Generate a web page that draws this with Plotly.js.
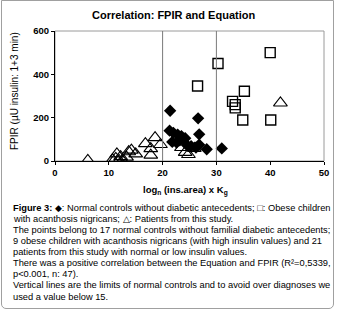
<!DOCTYPE html>
<html>
<head>
<meta charset="utf-8">
<script src="https://cdn.plot.ly/plotly-3.0.1.min.js"></script>
<style>
html,body{margin:0;padding:0;background:#fff;}
#frame{position:absolute;left:1px;top:0px;width:331px;height:307px;border:1px solid #a0a0a0;border-radius:0 0 5px 5px;}
#chart{position:absolute;left:0;top:0;width:337px;height:311px;}
</style>
</head>
<body>
<div id="frame"></div>
<div id="chart"></div>
<script>
// Normal controls without diabetic antecedents (filled diamonds)
const controlsX = [21.4, 26.6, 21.3, 22.0, 22.8, 23.5, 24.2, 26.8, 21.8, 22.6, 24.5, 25.3, 26.8, 26.2, 28.2, 31.0, 23.2];
const controlsY = [232, 197, 140, 130, 122, 115, 105, 123, 88, 85, 74, 68, 75, 62, 54, 58, 95];
// Obese children with acanthosis nigricans (open squares)
const obeseX = [40.0, 30.3, 26.5, 35.2, 33.0, 33.5, 33.5, 34.9, 40.1];
const obeseY = [500, 450, 346, 322, 275, 260, 245, 189, 189];
// Patients from this study (open triangles)
const patientsX = [6.1, 10.7, 11.3, 11.5, 11.9, 12.5, 13.3, 13.7, 14.2, 15.0, 16.8, 17.8, 17.8, 18.6, 19.6, 24.2, 25.9, 24.8, 23.5, 41.9, 12.2];
const patientsY = [3, 6, 12, 33, 3, 2, 18, 43, 50, 33, 80, 57, 27, 108, 76, 40, 58, 30, 62, 268, 20];
// Vertical limit lines
const limitLines = [20, 30];
const xTicks = [0, 10, 20, 30, 40, 50];
const yTicks = [0, 200, 400, 600];

const titleText = "Correlation: FPIR and Equation";
const xTitle = "log<sub>n</sub> (ins.area) x K<sub>g</sub>";
const yTitle = "FPIR (µU insulin: 1+3 min)";
const captionLines = [
  "<b>Figure 3:</b> ◆: Normal controls without diabetic antecedents; □: Obese children",
  "with acanthosis nigricans; △: Patients from this study.",
  "The points belong to 17 normal controls without familial diabetic antecedents;",
  "9 obese children with acanthosis nigricans (with high insulin values) and 21",
  "patients from this study with normal or low insulin values.",
  "There was a positive correlation between the Equation and FPIR (R²=0,5339,",
  "p<0.001, n: 47).",
  "Vertical lines are the limits of normal controls and to avoid over diagnoses we",
  "used a value below 15."
];

const FONT = "Liberation Sans, Arial, sans-serif";
const L = 55, R = 13, T = 31, B = 150, W = 337, H = 311;
const pw = W - L - R, ph = H - T - B;
const px2paperX = p => (p - L) / pw;
const py2paperY = p => (H - B - p) / ph;

const traces = [
  {x: controlsX, y: controlsY, type: 'scatter', mode: 'markers', name: 'Controls',
   marker: {symbol: 'diamond', size: 9.5, color: '#000'}},
  {x: obeseX, y: obeseY, type: 'scatter', mode: 'markers', name: 'Obese',
   marker: {symbol: 'square-open', size: 10, color: '#000', line: {width: 1.4, color: '#000'}}},
  {x: patientsX, y: patientsY, type: 'scatter', mode: 'markers', name: 'Patients',
   marker: {symbol: 'triangle-up-open', size: 12, color: '#000', line: {width: 1.1, color: '#000'}}}
];

const shapes = limitLines.map(v => ({type: 'line', xref: 'x', yref: 'paper', x0: v, x1: v, y0: 0, y1: 1,
  line: {color: '#7a7a7a', width: 1}}));
shapes.push({type: 'rect', xref: 'paper', yref: 'paper', x0: 0, x1: 1, y0: 0, y1: 1,
  line: {color: '#9a9a9a', width: 1}, layer: 'below'});

const annotations = [
  {text: '<b>' + titleText + '</b>', xref: 'paper', yref: 'paper', x: px2paperX(173), y: py2paperY(15),
   xanchor: 'center', yanchor: 'middle', showarrow: false, font: {size: 11, family: FONT}},
  {text: '<b>' + xTitle + '</b>', xref: 'paper', yref: 'paper', x: px2paperX(185), y: py2paperY(190),
   xanchor: 'center', yanchor: 'middle', showarrow: false, font: {size: 9.5, family: FONT}},
  {text: yTitle, xref: 'paper', yref: 'paper', x: px2paperX(14), y: py2paperY(91), textangle: -90,
   xanchor: 'center', yanchor: 'middle', showarrow: false, font: {size: 10, family: FONT}}
];
captionLines.forEach((line, i) => {
  annotations.push({text: line, xref: 'paper', yref: 'paper', x: px2paperX(11), y: py2paperY(207.7 + 11.1 * i),
    xanchor: 'left', yanchor: 'middle', align: 'left', showarrow: false, font: {size: 9.3, family: FONT}});
});

const layout = {
  width: W, height: H,
  margin: {l: L, r: R, t: T, b: B, pad: 0},
  paper_bgcolor: 'rgba(0,0,0,0)', plot_bgcolor: '#fff',
  showlegend: false,
  font: {family: FONT, color: '#000'},
  xaxis: {range: [0, 50], tickvals: xTicks, ticks: 'outside', ticklen: 3, tickcolor: '#000',
    showline: true, linecolor: '#000', linewidth: 1, showgrid: false, zeroline: false,
    tickfont: {size: 9.5, weight: 'bold', family: FONT}, fixedrange: true},
  yaxis: {range: [0, 600], tickvals: yTicks, ticks: 'outside', ticklen: 3, tickcolor: '#000',
    showline: true, linecolor: '#000', linewidth: 1, showgrid: false, zeroline: false,
    tickfont: {size: 9.5, weight: 'bold', family: FONT}, fixedrange: true},
  shapes: shapes,
  annotations: annotations
};

Plotly.newPlot('chart', traces, layout, {staticPlot: true, displayModeBar: false});
</script>
</body>
</html>
